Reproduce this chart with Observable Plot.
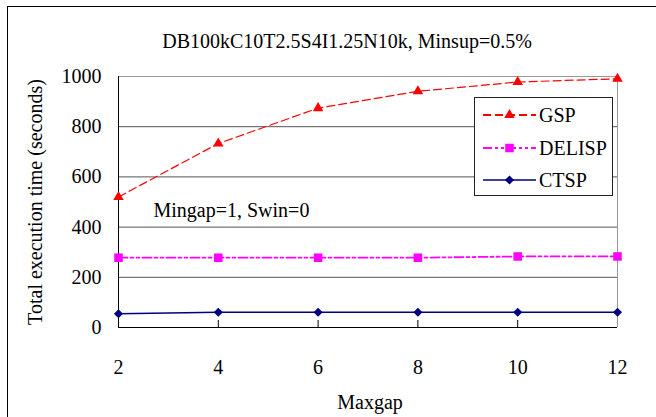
<!DOCTYPE html>
<html>
<head>
<meta charset="utf-8">
<script src="https://cdn.jsdelivr.net/npm/d3@7"></script>
<script src="https://cdn.jsdelivr.net/npm/@observablehq/plot@0.6"></script>
<style>
  html, body { margin: 0; padding: 0; background: #fff; }
  #wrap { position: relative; width: 656px; height: 417px; overflow: hidden; font-family: 'Liberation Serif', 'DejaVu Serif', serif; }
  #border { position: absolute; left: 7px; top: 6px; width: 700px; height: 500px; border-left: 1px solid #000; border-top: 1px solid #000; pointer-events: none; }
  #legend { position: absolute; left: 474px; top: 97px; width: 137px; height: 97px; border: 1px solid #222; background: #fff; }
  #legend .row { position: absolute; left: 0; height: 24px; display: flex; align-items: center; }
  #legend .row span { font-family: 'Liberation Serif', 'DejaVu Serif', serif; font-size: 20px; color: #000; margin-left: 3px; line-height: 24px; }
</style>
</head>
<body>
<div id="wrap">
  <div id="chart"></div>
  <div id="border"></div>
  <div id="legend"></div>
</div>
<script>
// ---- data ----
const maxgap = [2, 4, 6, 8, 10, 12];
const gsp    = [520, 733, 874, 941, 978, 991];
const delisp = [278, 278, 278, 278, 283, 283];
const ctsp   = [55, 61, 61, 61, 61, 61];
const yTicks = [0, 200, 400, 600, 800, 1000];
const seriesNames = ["GSP", "DELISP", "CTSP"];
const titleText = "DB100kC10T2.5S4I1.25N10k, Minsup=0.5%";
const noteText = "Mingap=1, Swin=0";
const xLabel = "Maxgap";
const yLabel = "Total execution time (seconds)";

// ---- styles ----
const FONT = "'Liberation Serif', 'DejaVu Serif', serif";
const FS = 20;
const styles = {
  GSP:    {values: gsp,    color: "#ff0000", dash: "8,4",          width: 1.2, legendWidth: 2,   symbol: "triangle", r: 3.9},
  DELISP: {values: delisp, color: "#ff00ff", dash: "9,3,3,3,3,3",  width: 1.8, legendWidth: 2,   symbol: "square",   r: 4.8},
  CTSP:   {values: ctsp,   color: "#000080", dash: null,           width: 1.5, legendWidth: 1.5, symbol: "diamond2", r: 4.1}
};

const rows = seriesNames.flatMap(name =>
  maxgap.map((x, i) => ({series: name, maxgap: x, time: styles[name].values[i]})));

const seriesMarks = seriesNames.flatMap(name => {
  const s = styles[name];
  const d = rows.filter(r => r.series === name);
  return [
    Plot.line(d, {x: "maxgap", y: "time", stroke: s.color, strokeWidth: s.width, strokeDasharray: s.dash || undefined}),
    Plot.dot(d, {x: "maxgap", y: "time", symbol: s.symbol, r: s.r, fill: s.color, stroke: "none"})
  ];
});

const chart = Plot.plot({
  width: 656,
  height: 417,
  marginLeft: 118,
  marginRight: 39,
  marginTop: 76,
  marginBottom: 90,
  style: {fontFamily: FONT, fontSize: FS + "px", color: "#000", background: "#fff"},
  x: {domain: [2, 12], ticks: maxgap, tickSize: -7, tickPadding: 39, tickFormat: d => String(d), label: null},
  y: {domain: [0, 1000], ticks: yTicks, tickSize: 0, tickPadding: 17, tickFormat: d => String(d), label: null},
  marks: [
    Plot.ruleY(yTicks.filter(t => t > 0 && t < 1000), {stroke: "#555", strokeWidth: 1}),
    Plot.ruleY([1000], {stroke: "#999"}),
    Plot.ruleX([12], {stroke: "#999"}),
    Plot.ruleY([0], {stroke: "#000"}),
    Plot.ruleX([2], {stroke: "#000"}),
    ...seriesMarks,
    Plot.text([titleText], {frameAnchor: "top", dx: -21, dy: -35, textAnchor: "middle", lineAnchor: "middle", fontSize: FS}),
    Plot.text([noteText], {frameAnchor: "top-left", dx: 35, dy: 134, textAnchor: "start", lineAnchor: "middle", fontSize: FS}),
    Plot.text([xLabel], {frameAnchor: "bottom", dx: 2, dy: 75, textAnchor: "middle", lineAnchor: "middle", fontSize: FS}),
    Plot.text([yLabel], {frameAnchor: "left", dx: -83, rotate: -90, textAnchor: "middle", lineAnchor: "middle", fontSize: FS})
  ]
});
document.getElementById("chart").appendChild(chart);

// ---- legend ----
const legend = d3.select("#legend");
const symbolMap = {triangle: d3.symbolTriangle, square: d3.symbolSquare, diamond2: d3.symbolDiamond2};
seriesNames.forEach((name, i) => {
  const s = styles[name];
  const row = legend.append("div").attr("class", "row").style("top", (5 + i * 32.5) + "px").style("left", "7px");
  const svg = row.append("svg").attr("width", 54).attr("height", 24);
  svg.append("line").attr("x1", 1).attr("x2", 54).attr("y1", 12).attr("y2", 12)
    .attr("stroke", s.color).attr("stroke-width", s.legendWidth)
    .attr("stroke-dasharray", s.dash || null);
  svg.append("path").attr("transform", "translate(27.5,12)")
    .attr("d", d3.symbol(symbolMap[s.symbol], Math.PI * s.r * s.r)())
    .attr("fill", s.color);
  row.append("span").text(name);
});
</script>
</body>
</html>
